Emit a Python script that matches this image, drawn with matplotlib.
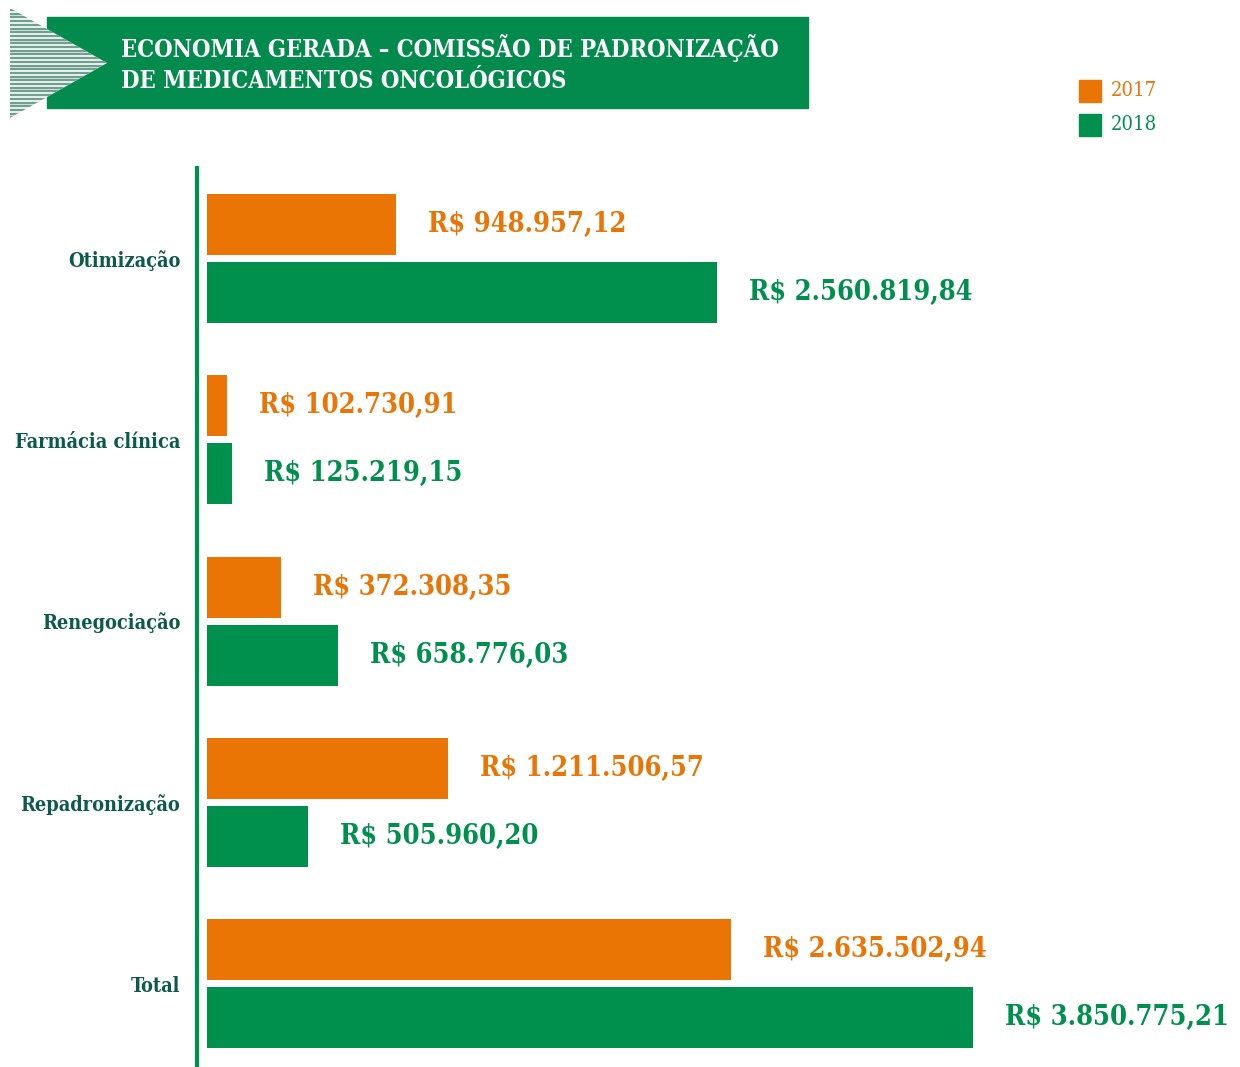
import numpy as np
import matplotlib
matplotlib.use("Agg")
import matplotlib.pyplot as plt
from matplotlib.patches import Rectangle, Polygon

# dados
categorias = ["Otimização", "Farmácia clínica", "Renegociação", "Repadronização", "Total"]
valores_2017 = [948957.12, 102730.91, 372308.35, 1211506.57, 2635502.94]
valores_2018 = [2560819.84, 125219.15, 658776.03, 505960.20, 3850775.21]
rotulos_2017 = ["R$ 948.957,12", "R$ 102.730,91", "R$ 372.308,35", "R$ 1.211.506,57", "R$ 2.635.502,94"]
rotulos_2018 = ["R$ 2.560.819,84", "R$ 125.219,15", "R$ 658.776,03", "R$ 505.960,20", "R$ 3.850.775,21"]
anos = ["2017", "2018"]
titulo = ["ECONOMIA GERADA – COMISSÃO DE PADRONIZAÇÃO", "DE MEDICAMENTOS ONCOLÓGICOS"]

LARANJA = "#EA7404"
VERDE = "#00904E"
VERDE_ESCURO = "#0B5A4B"
FONTE = dict(family="DejaVu Serif", stretch="condensed", weight="bold")

W, H = 1240, 1067
fig = plt.figure(figsize=(W / 100, H / 100), dpi=100)


def px(x, y):
    # pixel (topo-esquerda) -> fração da figura
    return x / W, 1 - y / H


# eixo principal: spine em x=197, topo 168, base 1067
x0, y0 = px(197, 1067)
x1, y1 = px(1240, 168)
ax = fig.add_axes([x0, y0, x1 - x0, y1 - y0])

escala = 199 / 1e6  # pixels por real
ax.set_xlim(-10 / escala, (1240 - 207) / escala)
esp = 181.25
ax.set_ylim(4 + (1067 - 983.5) / esp, -(258.5 - 168) / esp)

y = np.arange(len(categorias))
alt = 61 / esp
desl = 34 / esp
ax.barh(y - desl, valores_2017, height=alt, color=LARANJA, left=0)
ax.barh(y + desl, valores_2018, height=alt, color=VERDE, left=0)

for i in range(len(categorias)):
    ax.annotate(rotulos_2017[i], (valores_2017[i], y[i] - desl), xytext=(23, 0),
                textcoords="offset points", va="center", ha="left",
                color=LARANJA, fontsize=19.5, **FONTE)
    ax.annotate(rotulos_2018[i], (valores_2018[i], y[i] + desl), xytext=(23, 0),
                textcoords="offset points", va="center", ha="left",
                color=VERDE, fontsize=19.5, **FONTE)

ax.set_yticks(y)
ax.set_yticklabels(categorias, color=VERDE_ESCURO, fontsize=14.3, **FONTE)
ax.tick_params(axis="y", length=0, pad=12)
ax.set_xticks([])
for s in ["top", "right", "bottom"]:
    ax.spines[s].set_visible(False)
ax.spines["left"].set_color(VERDE)
ax.spines["left"].set_linewidth(3)
ax.patch.set_alpha(0)

# cabeçalho
fig.patches.append(Rectangle(px(47, 108), (808 - 47) / W, 91 / H,
                             transform=fig.transFigure, color="#038A4D", zorder=1))
tri = Polygon([px(10, 8), px(107, 63), px(10, 118)], closed=True,
              transform=fig.transFigure, facecolor="white", edgecolor="none", zorder=2)
fig.patches.append(tri)
for yy in np.arange(10, 118, 3.7):
    ln = plt.Line2D([10 / W, 107 / W], [1 - yy / H] * 2, transform=fig.transFigure,
                    color="#6E9F8F", lw=1.7, zorder=3)
    ln.set_clip_path(tri)
    fig.lines.append(ln)

fig.text(*px(121, 57), titulo[0], color="white", fontsize=17, va="baseline", zorder=4, **FONTE)
fig.text(*px(121, 88), titulo[1], color="white", fontsize=17, va="baseline", zorder=4, **FONTE)

# legenda
for k, (ano, cor) in enumerate(zip(anos, [LARANJA, VERDE])):
    yc = 91 + 34 * k
    fig.patches.append(Rectangle(px(1079, yc + 11), 22 / W, 22 / H,
                                 transform=fig.transFigure, color=cor))
    fig.text(*px(1111, yc), ano, color=cor, fontsize=14.5, va="center",
             family="DejaVu Serif", stretch="condensed")

fig.savefig("out.png", dpi=100)
